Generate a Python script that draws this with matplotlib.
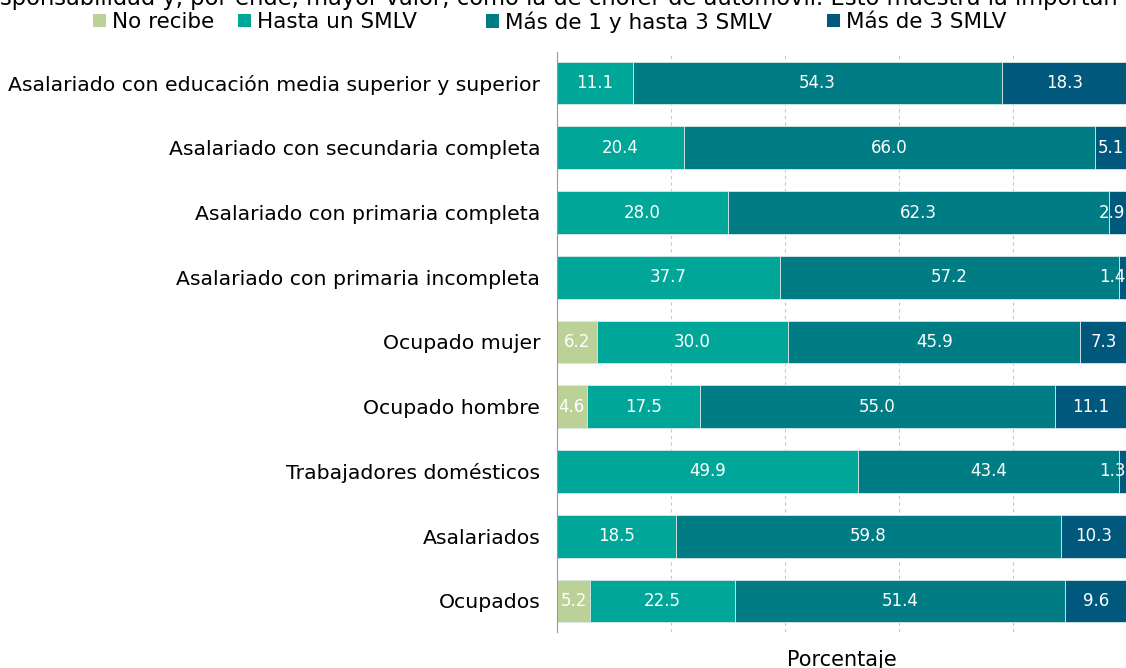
import matplotlib.pyplot as plt
from matplotlib.patches import Patch
import numpy as np

categories = ["Asalariado con educación media superior y superior",
              "Asalariado con secundaria completa",
              "Asalariado con primaria completa",
              "Asalariado con primaria incompleta",
              "Ocupado mujer",
              "Ocupado hombre",
              "Trabajadores domésticos",
              "Asalariados",
              "Ocupados"]
series = ["No recibe", "Hasta un SMLV", "Más de 1 y hasta 3 SMLV", "Más de 3 SMLV"]
no_recibe = [0, 0, 0, 0, 6.2, 4.6, 0, 0, 5.2]
hasta_1 = [11.1, 20.4, 28.0, 37.7, 30.0, 17.5, 49.9, 18.5, 22.5]
de_1_a_3 = [54.3, 66.0, 62.3, 57.2, 45.9, 55.0, 43.4, 59.8, 51.4]
mas_3 = [18.3, 5.1, 2.9, 1.4, 7.3, 11.1, 1.3, 10.3, 9.6]
colors = ["#bbd197", "#00a698", "#007c85", "#00587c"]

title_text = ("sponsabilidad y, por ende, mayor valor, como la de chofer de "
              "automóvil. Esto muestra la importan")

plt.rcParams['font.family'] = ['DejaVu Sans']

data = np.array([no_recibe, hasta_1, de_1_a_3, mas_3])
totals = data.sum(axis=0)
pct = data / totals * 100

fig = plt.figure(figsize=(11.26, 6.68), dpi=100)
ax = fig.add_axes([557 / 1126, 36 / 668, 570 / 1126, 580 / 668])

y = np.arange(len(categories))
left = np.zeros(len(categories))
for k in range(4):
    ax.barh(y, pct[k], left=left, height=0.66, color=colors[k],
            edgecolor="#d8e8e8", linewidth=0.6, label=series[k], zorder=2)
    for i in range(len(categories)):
        v = data[k, i]
        if v <= 0:
            continue
        c = left[i] + pct[k, i] / 2
        if c > 97.5:
            ax.text(99.7, y[i], f"{v:.1f}", ha="right", va="center",
                    color="white", fontsize=12, zorder=3)
        else:
            ax.text(c, y[i], f"{v:.1f}", ha="center", va="center",
                    color="white", fontsize=12, zorder=3)
    left += pct[k]

ax.set_xlim(0, 100)
ax.set_ylim(len(categories) - 0.52, -0.48)
ax.set_yticks(y)
ax.set_yticklabels(categories, fontsize=14.7)
ax.set_xticks([20, 40, 60, 80])
ax.set_xticklabels([])
ax.tick_params(length=0)
ax.tick_params(axis="y", pad=12)
ax.grid(axis="x", linestyle=(0, (3, 3)), color="#c8c8c8", linewidth=0.8, zorder=0)
for s in ["top", "right", "bottom"]:
    ax.spines[s].set_visible(False)
ax.spines["left"].set_color("#999999")

fig.text(0.0, 1 - 5 / 668, title_text, ha="left", va="baseline", fontsize=16.3)
fig.text(842 / 1126, 2 / 668, "Porcentaje", ha="center", va="baseline", fontsize=15)

# legend entries placed one by one to match the uneven spacing
legend_x = [93, 238, 486, 827]
for k in range(4):
    h = Patch(facecolor=colors[k], edgecolor="none")
    lg = fig.legend(handles=[h], labels=[series[k]], loc="center left",
                    bbox_to_anchor=(legend_x[k] / 1126, 1 - 22 / 668),
                    frameon=False, fontsize=15.5, handlelength=0.6,
                    handleheight=0.6, handletextpad=0.3, borderpad=0,
                    borderaxespad=0)

fig.savefig("out.png", dpi=100)
